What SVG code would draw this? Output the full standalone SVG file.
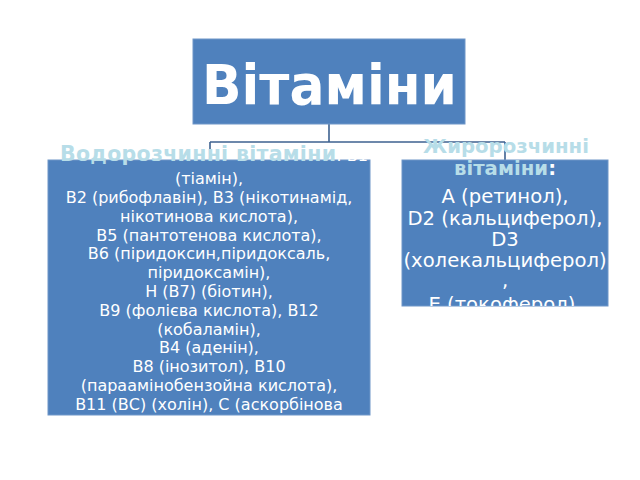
<svg xmlns="http://www.w3.org/2000/svg" width="640" height="480" viewBox="0 0 640 480">
<style>
.box{fill:#4F81BD;stroke:#6F96C8;stroke-width:1}
.conn{fill:none;stroke:#3E6290;stroke-width:1.6}
.t{font-family:"DejaVu Sans",sans-serif;fill:#FFFFFF;text-anchor:middle}
.l{font-size:16px}
.r{font-size:19.6px}
.h{font-weight:bold;fill:#B7DDE8;font-size:19.7px}
.hl{font-weight:bold;fill:#B7DDE8;font-size:20.5px;letter-spacing:0.3px}
</style>
<defs>
<clipPath id="clipR"><rect x="380" y="100" width="250" height="206"/></clipPath>
<clipPath id="clipL"><rect x="30" y="100" width="360" height="315"/></clipPath>
</defs>
<rect width="640" height="480" fill="#FFFFFF"/>
<g id="connectors">
<path class="conn" d="M329,124 V142 M210,142 H505 M210,142 V160 M505,142 V160"/>
</g>
<g id="node-vitamins">
<rect class="box" x="193" y="39" width="272" height="85"/>
<text class="t" x="329.5" y="104" font-size="55" font-weight="bold" textLength="255" lengthAdjust="spacingAndGlyphs">Вітаміни</text>
</g>
<g id="node-water">
<rect class="box" x="48" y="160" width="322" height="255"/>
<g clip-path="url(#clipL)">
<text class="t l" x="214" y="161"><tspan class="hl">Водорозчинні вітаміни</tspan><tspan>: В1</tspan></text>
<text class="t l" x="209" y="183.5">(тіамін),</text>
<text class="t l" x="209" y="202.5">В2 (рибофлавін), В3 (нікотинамід,</text>
<text class="t l" x="209" y="221.5">нікотинова кислота),</text>
<text class="t l" x="209" y="240.5">В5 (пантотенова кислота),</text>
<text class="t l" x="209" y="259">В6 (піридоксин,піридоксаль,</text>
<text class="t l" x="209" y="278">піридоксамін),</text>
<text class="t l" x="209" y="297">Н (В7) (біотин),</text>
<text class="t l" x="209" y="316">В9 (фолієва кислота), В12</text>
<text class="t l" x="209" y="334.5">(кобаламін),</text>
<text class="t l" x="209" y="353">В4 (аденін),</text>
<text class="t l" x="209" y="372">В8 (інозитол), В10</text>
<text class="t l" x="209" y="390.5">(параамінобензойна кислота),</text>
<text class="t l" x="209" y="409.5">В11 (ВС) (холін), С (аскорбінова</text>
</g>
</g>
<g id="node-fat">
<rect class="box" x="402" y="160" width="206" height="146"/>
<g clip-path="url(#clipR)">
<text class="t h" x="506" y="153">Жиророзчинні</text>
<text class="t h" x="505" y="175">вітаміни<tspan fill="#FFFFFF">:</tspan></text>
<text class="t r" x="505" y="203">А (ретинол),</text>
<text class="t r" x="505" y="224.5">D2 (кальциферол),</text>
<text class="t r" x="505" y="246">D3</text>
<text class="t r" x="505" y="267">(холекальциферол)</text>
<text class="t r" x="505" y="287">,</text>
<text class="t r" x="505" y="311">Е (токоферол).</text>
</g>
</g>
</svg>
